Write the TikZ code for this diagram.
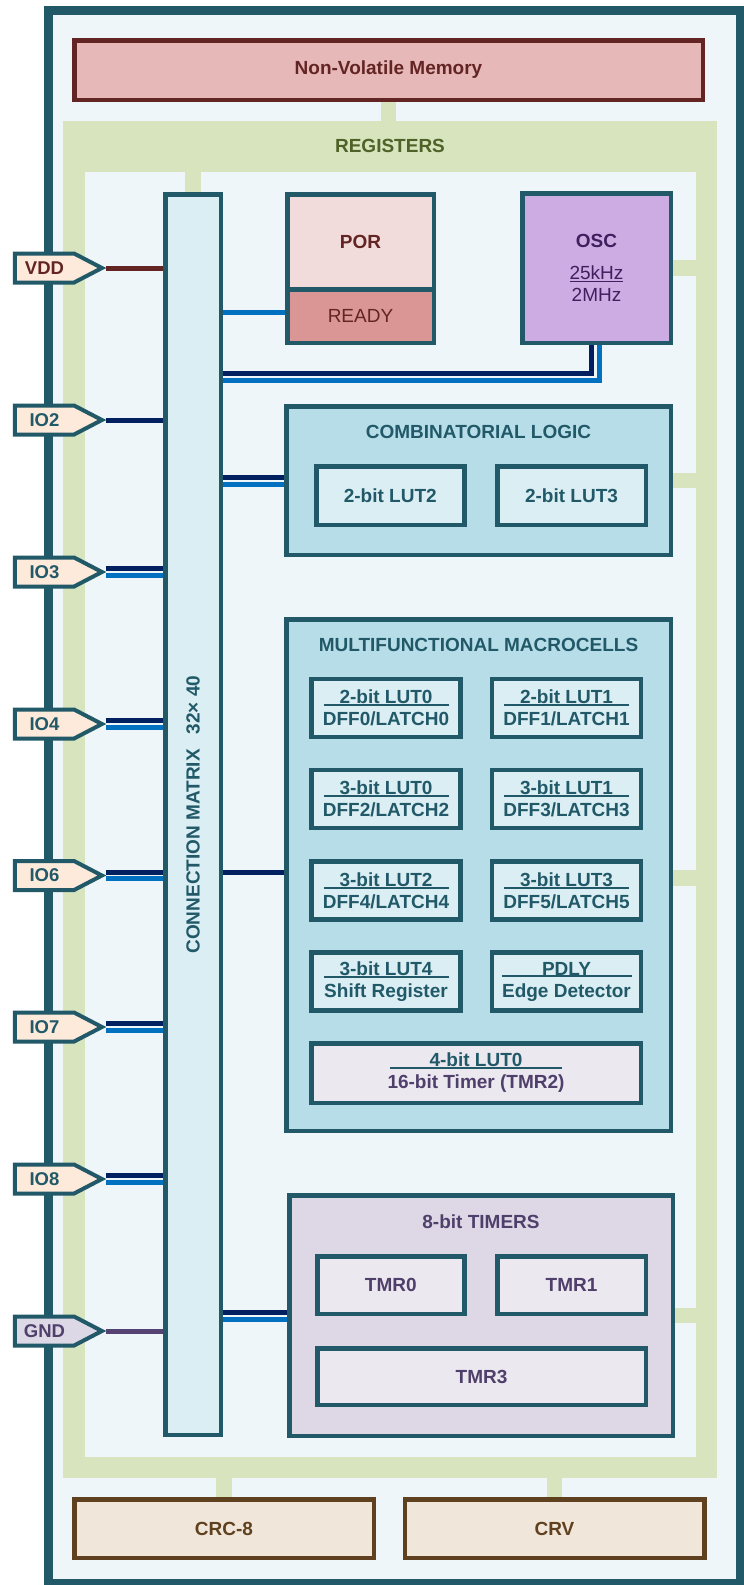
\documentclass[tikz,border=0pt]{standalone}
\usepackage{fontspec}
\setmainfont{Liberation Sans}
\usetikzlibrary{positioning,calc,shapes.symbols}
\definecolor{chipteal}{HTML}{215968}
\definecolor{chipbg}{HTML}{EEF6F9}
\definecolor{nvmfill}{HTML}{E6B9B8}
\definecolor{nvmdark}{HTML}{632523}
\definecolor{regfill}{HTML}{D7E4BD}
\definecolor{regtext}{HTML}{4F6228}
\definecolor{lutfill}{HTML}{DAEEF3}
\definecolor{grpfill}{HTML}{B7DEE8}
\definecolor{pinfill}{HTML}{FDEADA}
\definecolor{gndfill}{HTML}{DDD8E6}
\definecolor{navyc}{HTML}{002060}
\definecolor{bluec}{HTML}{0070C0}
\definecolor{gndc}{HTML}{554473}
\definecolor{porfill}{HTML}{F2DCDB}
\definecolor{readyfill}{HTML}{D99694}
\definecolor{oscfill}{HTML}{CDACE3}
\definecolor{osctext}{HTML}{3F1F5E}
\definecolor{tmrfill}{HTML}{DED8E6}
\definecolor{tmrlite}{HTML}{ECE8F0}
\definecolor{tmrtext}{HTML}{4F3F6B}
\definecolor{crcfill}{HTML}{F1E6DA}
\definecolor{crcdark}{HTML}{5F4120}
\newcommand\bfnt{\fontsize{19}{22}\selectfont\bfseries}
\newcommand\rgfnt{\fontsize{19}{22}\selectfont\mdseries}
\newcommand\ulbox[2]{\rlap{\rule[-2.4pt]{#1}{2pt}}\makebox[#1]{#2}}
\newcommand\ultext[1]{\setbox0\hbox{#1}\rlap{\rule[-2.4pt]{\wd0}{1.5pt}}\box0}
\pgfdeclarelayer{bg}
\pgfdeclarelayer{wires}
\pgfsetlayers{bg,wires,main}
\tikzset{
  chip/.style={draw=chipteal, line width=9pt, fill=chipbg, inner sep=0pt},
  blk/.style={line width=4.5pt, inner sep=0pt, align=center, font=\bfnt},
  nvmbox/.style={blk, draw=nvmdark, fill=nvmfill, text=nvmdark},
  crcbox/.style={blk, draw=crcdark, fill=crcfill, text=crcdark},
  grpbox/.style={blk, draw=chipteal, fill=grpfill},
  lutbox/.style={blk, draw=chipteal, fill=lutfill, text=chipteal},
  cellbox/.style={lutbox, minimum width=149pt, minimum height=58pt},
  tmrbox/.style={blk, draw=chipteal, fill=tmrlite, text=tmrtext},
  grptitle/.style={font=\bfnt, text=chipteal},
  iopin/.style={shape=signal, signal to=east, signal pointer angle=55, draw=chipteal,
                line width=4pt, fill=pinfill, text=chipteal, inner sep=0pt,
                minimum width=87pt, minimum height=29pt,
                font=\fontsize{18.5}{20}\selectfont\bfseries},
  regbus/.style={draw=regfill, line width=15.5pt},
  navyline/.style={draw=navyc, line width=5pt},
  blueline/.style={draw=bluec, line width=5pt},
  vddline/.style={draw=nvmdark, line width=5pt},
  gndline/.style={draw=gndc, line width=5pt}
}
\begin{document}
\begin{tikzpicture}[x=1pt,y=-1pt]
  \useasboundingbox (0,0) rectangle (744,1585);
  \begin{pgfonlayer}{bg}
    \node[chip, minimum width=692pt, minimum height=1572.5pt] (chip) at (394.5,796.75) {};
    \node[fill=regfill, inner sep=0pt, minimum width=654pt, minimum height=1357pt] (regs) at (390,799.5) {};
    \node[fill=chipbg, inner sep=0pt, minimum width=611pt, minimum height=1285pt] (regin) at (390.5,814.5) {};
  \end{pgfonlayer}
  \node[font=\bfnt, text=regtext] (regT) at (390,146) {REGISTERS};

  \node[nvmbox, minimum width=628.5pt, minimum height=59.5pt] (nvm) at (388.5,70) {Non-Volatile Memory};
  \node[lutbox, minimum width=55.5pt, minimum height=1240.5pt] (mtx) at (193,814.5) {};
  \node[grptitle, rotate=90] (mtxT) at (mtx) {CONNECTION MATRIX\hspace{15pt}32× 40};

  \node[blk, draw=chipteal, fill=porfill, text=nvmdark, minimum width=146.5pt, minimum height=95pt] (por) at (360.5,241.75) {POR};
  \node[blk, draw=chipteal, fill=readyfill, text=nvmdark, font=\rgfnt, minimum width=146.5pt, minimum height=53.5pt] (ready) at (360.5,316) {READY};
  \node[blk, draw=chipteal, fill=oscfill, text=osctext, minimum width=148.5pt, minimum height=149.5pt] (osc) at (596.5,268)
    {OSC\\[10pt]{\rgfnt\ultext{25kHz}}\\{\rgfnt 2MHz}};

  \node[grpbox, minimum width=384.5pt, minimum height=148.5pt] (comb) at (478.5,480.5) {};
  \node[grptitle] (combT) at ([yshift=-28pt]comb.north) {COMBINATORIAL LOGIC};
  \node[lutbox, minimum width=148pt, minimum height=58.5pt] (lut2) at (390.25,495.5) {2-bit LUT2};
  \node[lutbox, minimum width=148.5pt, minimum height=58.5pt] (lut3) at (571.5,495.5) {2-bit LUT3};

  \node[grpbox, minimum width=384.5pt, minimum height=511.5pt] (mcell) at (478.5,875) {};
  \node[grptitle] (mcellT) at ([yshift=-28pt]mcell.north) {MULTIFUNCTIONAL MACROCELLS};
  \node[cellbox] (c0) at (386,708) {\ulbox{125pt}{2-bit LUT0}\\DFF0/LATCH0};
  \node[cellbox] (c1) at (566.5,708) {\ulbox{125pt}{2-bit LUT1}\\DFF1/LATCH1};
  \node[cellbox] (c2) at (386,799) {\ulbox{125pt}{3-bit LUT0}\\DFF2/LATCH2};
  \node[cellbox] (c3) at (566.5,799) {\ulbox{125pt}{3-bit LUT1}\\DFF3/LATCH3};
  \node[cellbox] (c4) at (386,890.5) {\ulbox{125pt}{3-bit LUT2}\\DFF4/LATCH4};
  \node[cellbox] (c5) at (566.5,890.5) {\ulbox{125pt}{3-bit LUT3}\\DFF5/LATCH5};
  \node[cellbox] (c6) at (386,981.5) {\ulbox{125pt}{3-bit LUT4}\\Shift Register};
  \node[cellbox] (c7) at (566.5,981.5) {\ulbox{130pt}{PDLY}\\Edge Detector};
  \node[tmrbox, text=chipteal, minimum width=329.5pt, minimum height=59.5pt] (tmr2) at (476,1073)
    {\ulbox{172pt}{4-bit LUT0}\\\textcolor{tmrtext}{16-bit Timer (TMR2)}};

  \node[blk, draw=chipteal, fill=tmrfill, minimum width=383.5pt, minimum height=240.5pt] (tmrs) at (481,1315.5) {};
  \node[grptitle, text=tmrtext] (tmrsT) at ([yshift=-29pt]tmrs.north) {8-bit TIMERS};
  \node[tmrbox, minimum width=147pt, minimum height=57.5pt] (tmr0) at (390.75,1285) {TMR0};
  \node[tmrbox, minimum width=148.5pt, minimum height=57.5pt] (tmr1) at (571.5,1285) {TMR1};
  \node[tmrbox, minimum width=328.5pt, minimum height=56.5pt] (tmr3) at (481.5,1376.5) {TMR3};

  \node[crcbox, minimum width=299.5pt, minimum height=58.5pt] (crc) at (224,1528.5) {CRC-8};
  \node[crcbox, minimum width=299.5pt, minimum height=58.5pt] (crv) at (554.5,1528.5) {CRV};

  \node[iopin, text=nvmdark] (VDD) at (44.5,268) {VDD};
  \node[iopin] (IO2) at (44.5,420) {IO2};
  \foreach \nm/\yy in {IO3/572,IO4/724,IO6/875.5,IO7/1027,IO8/1179}
    \node[iopin] (\nm) at (44.5,\yy) {\nm};
  \node[iopin, fill=gndfill, text=tmrtext] (GND) at (44.5,1331) {GND};

  \begin{pgfonlayer}{wires}
    \draw[regbus] (nvm.south) -- (nvm.south |- regs.north);
    \draw[regbus] (mtx.north) -- (mtx.north |- regin.north);
    \draw[regbus] (osc.east) -- (osc.east -| regin.east);
    \draw[regbus] (comb.east) -- (comb.east -| regin.east);
    \coordinate (mcR) at ([yshift=-3pt]mcell.east);
    \draw[regbus] (mcR) -- (mcR -| regin.east);
    \draw[regbus] (tmrs.east) -- (tmrs.east -| regin.east);
    \draw[regbus] (crc.north) -- (crc.north |- regs.south);
    \draw[regbus] (crv.north) -- (crv.north |- regs.south);

    \draw[vddline] (VDD.east) -- (VDD.east -| mtx.west);
    \draw[navyline] (IO2.east) -- (IO2.east -| mtx.west);
    \foreach \nm in {IO3,IO4,IO6,IO7,IO8} {
      \coordinate (nT) at ([yshift=3.4pt]\nm.east);
      \coordinate (bT) at ([yshift=-3.4pt]\nm.east);
      \draw[navyline] (nT) -- (nT -| mtx.west);
      \draw[blueline] (bT) -- (bT -| mtx.west);
    }
    \draw[gndline] (GND.east) -- (GND.east -| mtx.west);

    \coordinate (rdy) at ([yshift=4pt]ready.west);
    \draw[blueline] (rdy) -- (rdy -| mtx.east);
    \coordinate (oscN) at ($(osc.south)+(-5,28)$);
    \coordinate (oscB) at ($(osc.south)+(3,35.5)$);
    \draw[navyline] ([xshift=-5pt]osc.south) -- (oscN) -- (oscN -| mtx.east);
    \draw[blueline] ([xshift=3pt]osc.south) -- (oscB) -- (oscB -| mtx.east);
    \coordinate (cbN) at ([yshift=3.5pt]comb.west);
    \coordinate (cbB) at ([yshift=-3.5pt]comb.west);
    \draw[navyline] (cbN) -- (cbN -| mtx.east);
    \draw[blueline] (cbB) -- (cbB -| mtx.east);
    \coordinate (mcN) at ([yshift=3pt]mcell.west);
    \draw[navyline] (mcN) -- (mcN -| mtx.east);
    \coordinate (tmN) at ([yshift=3.5pt]tmrs.west);
    \coordinate (tmB) at ([yshift=-3.5pt]tmrs.west);
    \draw[navyline] (tmN) -- (tmN -| mtx.east);
    \draw[blueline] (tmB) -- (tmB -| mtx.east);
  \end{pgfonlayer}
\end{tikzpicture}
\end{document}
